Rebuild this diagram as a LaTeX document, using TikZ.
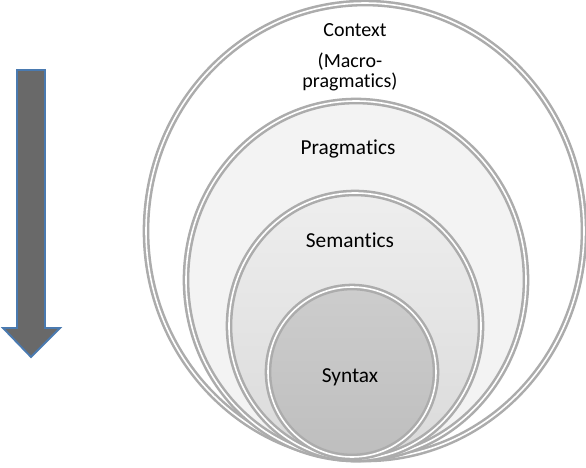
\documentclass[tikz,border=0pt]{standalone}
\usepackage{fontspec}
\setmainfont{Carlito}[Ligatures=NoCommon]
\tikzset{
  ring/.style={draw=gray!65, line width=1.9pt, double=white, double distance=1.2pt},
  lbl/.style={font=\fontsize{16}{19}\selectfont, align=center, inner sep=0pt}
}
\begin{document}
\begin{tikzpicture}[x=0.75pt,y=0.75pt,yscale=-1,xscale=1]
  \useasboundingbox (0,0) rectangle (586,468);
  % arrow on the left
  \draw [fill={rgb, 255:red, 105; green, 105; blue, 105 }, draw={rgb, 255:red, 74; green, 122; blue, 176 }, line width=1.4pt, line join=miter] (17,70) -- (45,70) -- (45,328) -- (60,328) -- (31,357) -- (3,328) -- (17,328) -- cycle ;
  % nested rings
  \draw [ring, fill=white] (365,231) ellipse (219 and 228) ;
  \draw [ring, fill={rgb, 255:red, 243; green, 243; blue, 243 }] (356,280) ellipse (170 and 179) ;
  \draw [ring, top color={rgb, 255:red, 238; green, 238; blue, 238 }, bottom color={rgb, 255:red, 218; green, 218; blue, 218 }] (355,326) ellipse (126 and 133) ;
  \draw [ring, top color={rgb, 255:red, 205; green, 205; blue, 205 }, bottom color={rgb, 255:red, 190; green, 190; blue, 190 }] (352,372) ellipse (84 and 85) ;
  % labels
  \node [lbl, font=\fontsize{15}{15.5}\selectfont] (context) at (355,30) {Context};
  \node [lbl, font=\fontsize{15}{15.5}\selectfont] (macro) at (350,72) {(Macro-\\pragmatics)};
  \node [lbl] (prag) at (348,149) {Pragmatics};
  \node [lbl] (sem) at (350,240) {Semantics};
  \node [lbl] (syn) at (350,377) {Syntax};
\end{tikzpicture}
\end{document}
